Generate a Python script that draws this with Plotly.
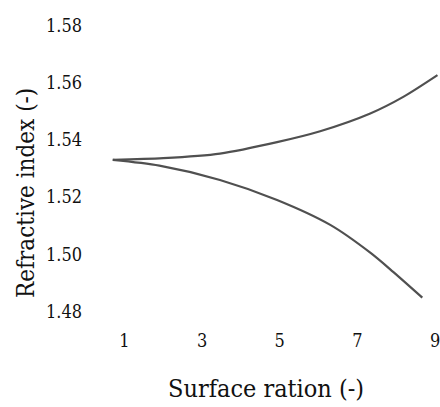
import plotly.graph_objects as go

# Data
upper_x = [0.70, 2.0, 3.46, 4.93, 6.04, 7.33, 8.18, 9.06]
upper_y = [1.5330, 1.5336, 1.5352, 1.5392, 1.5430, 1.5492, 1.5550, 1.5626]
lower_x = [0.70, 1.9, 3.46, 4.93, 6.30, 7.33, 7.92, 8.67]
lower_y = [1.5330, 1.5310, 1.5260, 1.5190, 1.5103, 1.5006, 1.4939, 1.4849]

x_ticks = [1, 3, 5, 7, 9]
y_ticks = [1.48, 1.50, 1.52, 1.54, 1.56, 1.58]
y_tick_text = ["1.48", "1.50", "1.52", "1.54", "1.56", "1.58"]

x_title = "Surface ration (-)"
y_title = "Refractive index (-)"

W, H = 440, 407
L, R, T, B = 105, 1, 11, 81
font_family = "DejaVu Serif Condensed, DejaVu Serif"
line_color = "#505050"
text_color = "#111111"

fig = go.Figure()
fig.add_trace(go.Scatter(x=upper_x, y=upper_y, mode="lines",
                         line=dict(color=line_color, width=2.2, shape="spline", smoothing=0.8), showlegend=False))
fig.add_trace(go.Scatter(x=lower_x, y=lower_y, mode="lines",
                         line=dict(color=line_color, width=2.2, shape="spline", smoothing=0.8), showlegend=False))

pw = W - L - R
ph = H - T - B

fig.update_layout(
    width=W, height=H,
    margin=dict(l=L, r=R, t=T, b=B, pad=0),
    paper_bgcolor="white", plot_bgcolor="white",
    font=dict(family=font_family, color=text_color),
    xaxis=dict(range=[0.5, 9.1], tickvals=x_ticks, showgrid=False, zeroline=False, showline=False,
               tickfont=dict(size=18, family=font_family, color=text_color), ticklabelstandoff=2,
               ticklabeloverflow="allow"),
    yaxis=dict(range=[1.475, 1.585], tickvals=y_ticks, ticktext=y_tick_text, showgrid=False, zeroline=False, showline=False,
               tickfont=dict(size=18, family=font_family, color=text_color), ticklabelstandoff=22,
               ticklabeloverflow="allow"),
    annotations=[
        dict(text=x_title, xref="paper", yref="paper", x=(266 - L) / pw, y=-(388 - (H - B)) / ph,
             xanchor="center", yanchor="middle", showarrow=False,
             font=dict(size=25, family=font_family, color=text_color)),
        dict(text=y_title, xref="paper", yref="paper", x=(26 - L) / pw, y=1 - (193 - T) / ph,
             xanchor="center", yanchor="middle", textangle=-90, showarrow=False,
             font=dict(size=24, family=font_family, color=text_color)),
    ],
)

fig.write_html("out.html")
